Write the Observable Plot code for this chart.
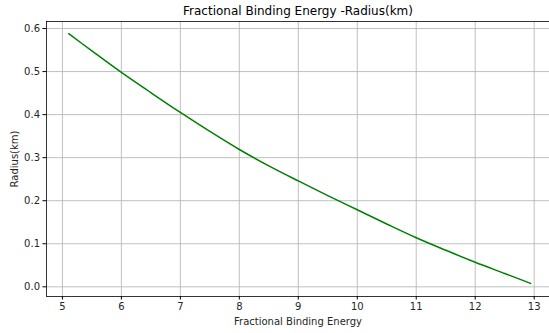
<!DOCTYPE html>
<html>
<head>
<meta charset="utf-8">
<script src="https://cdn.jsdelivr.net/npm/d3@7"></script>
<script src="https://cdn.jsdelivr.net/npm/@observablehq/plot@0.6"></script>
<style>
  html, body { margin: 0; padding: 0; background: #fff; }
  svg { display: block; }
</style>
</head>
<body>
<div id="chart"></div>
<script>
const titleText = "Fractional Binding Energy -Radius(km)";
const xLabel = "Fractional Binding Energy";
const yLabel = "Radius(km)";
const energy = [5.107, 5.5, 6, 6.5, 7, 7.5, 8, 8.5, 9, 9.5, 10, 10.5, 11, 11.5, 12, 12.5, 12.94];
const radius = [0.588, 0.548, 0.498, 0.451, 0.405, 0.361, 0.319, 0.281, 0.246, 0.212, 0.179, 0.146, 0.114, 0.085, 0.057, 0.031, 0.008];
const xTicks = [5, 6, 7, 8, 9, 10, 11, 12, 13];
const yTicks = [0.0, 0.1, 0.2, 0.3, 0.4, 0.5, 0.6];

const data = energy.map((e, i) => ({e, r: radius[i]}));
const xDomain = [4.73, 13.26];
const yDomain = [-0.0225, 0.6163];

const chart = Plot.plot({
  width: 549,
  height: 333,
  marginLeft: 46,
  marginRight: 0,
  marginTop: 21,
  marginBottom: 37,
  style: {fontFamily: "DejaVu Sans", fontSize: "10px", color: "#262626", background: "#fff", overflow: "visible"},
  x: {domain: xDomain, ticks: xTicks, label: null},
  y: {domain: yDomain, ticks: yTicks, label: null},
  marks: [
    Plot.gridX(xTicks, {stroke: "#b0b0b0", strokeOpacity: 1, strokeWidth: 0.8}),
    Plot.gridY(yTicks, {stroke: "#b0b0b0", strokeOpacity: 1, strokeWidth: 0.8}),
    Plot.axisX(xTicks, {tickSize: 3.5, tickPadding: 3, stroke: "#000", fontSize: 10, label: xLabel, labelAnchor: "center", labelArrow: "none", labelOffset: 28}),
    Plot.axisY(yTicks, {tickSize: 3.5, tickPadding: 3, stroke: "#000", fontSize: 10, tickFormat: d3.format(".1f"), label: yLabel, labelAnchor: "center", labelArrow: "none", labelOffset: 36}),
    Plot.ruleX([xDomain[0]], {stroke: "#000", strokeWidth: 0.8}),
    Plot.ruleY([yDomain[0]], {stroke: "#000", strokeWidth: 0.8}),
    Plot.ruleY([yDomain[1]], {stroke: "#000", strokeWidth: 0.8}),
    Plot.line(data, {x: "e", y: "r", stroke: "#008000", strokeWidth: 1.5, curve: "catmull-rom"}),
    Plot.text([titleText], {frameAnchor: "top", lineAnchor: "middle", dy: -10, fontSize: 12, fill: "#000", text: d => d})
  ]
});
document.getElementById("chart").appendChild(chart);
</script>
</body>
</html>
